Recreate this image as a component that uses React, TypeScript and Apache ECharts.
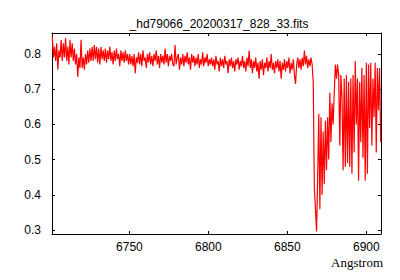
import React, { useEffect, useRef } from "react";
import * as echarts from "echarts";

const TITLE = "_hd79066_20200317_828_33.fits";
const X_LABEL = "Angstrom";
const LAMBDA_START = 6701.2;
const LAMBDA_STEP = 0.7;
const X_MIN = 6701;
const X_MAX = 6909.3;
const Y_MIN = 0.2887;
const Y_MAX = 0.8595;
const xTicks = [6750, 6800, 6850, 6900];
const yTicks = [0.3, 0.4, 0.5, 0.6, 0.7, 0.8];

const flux1 = [
  0.85, 0.79, 0.82, 0.78, 0.83, 0.755, 0.81, 0.79, 0.84, 0.78,
  0.83, 0.79, 0.845, 0.78, 0.82, 0.77, 0.84, 0.79, 0.83, 0.78,
  0.815, 0.77, 0.80, 0.735, 0.79, 0.76, 0.84, 0.76, 0.79, 0.755,
  0.80, 0.77, 0.81, 0.775, 0.815, 0.78, 0.82, 0.78, 0.825, 0.785,
  0.82, 0.775, 0.815, 0.77, 0.82, 0.785, 0.81, 0.78, 0.815, 0.775,
  0.81, 0.785, 0.82, 0.78, 0.805, 0.77, 0.81, 0.78, 0.815, 0.785,
  0.80, 0.765, 0.81, 0.78, 0.805, 0.775, 0.81, 0.78, 0.80, 0.77,
];
const flux2 = [
  0.80, 0.77, 0.795, 0.765, 0.80, 0.745, 0.79, 0.775, 0.805, 0.77,
  0.80, 0.765, 0.81, 0.78, 0.79, 0.76, 0.80, 0.775, 0.805, 0.77,
  0.795, 0.765, 0.80, 0.78, 0.81, 0.77, 0.795, 0.76, 0.80, 0.775,
  0.795, 0.77, 0.815, 0.775, 0.80, 0.765, 0.795, 0.78, 0.80, 0.77,
  0.765, 0.825, 0.77, 0.79, 0.80, 0.755, 0.79, 0.77, 0.80, 0.765,
  0.795, 0.775, 0.805, 0.77, 0.79, 0.755, 0.80, 0.775, 0.795, 0.765,
  0.79, 0.77, 0.80, 0.76, 0.785, 0.77, 0.805, 0.765, 0.79, 0.775,
  0.80, 0.765, 0.785, 0.77,
];
const flux3 = [
  0.79, 0.765, 0.785, 0.755, 0.795, 0.77, 0.78, 0.75, 0.79, 0.765,
  0.785, 0.76, 0.795, 0.77, 0.78, 0.745, 0.785, 0.765, 0.79, 0.76,
  0.78, 0.75, 0.785, 0.77, 0.79, 0.755, 0.78, 0.765, 0.795, 0.76,
  0.78, 0.75, 0.79, 0.765, 0.81, 0.76, 0.785, 0.745, 0.78, 0.76,
  0.79, 0.75, 0.775, 0.73, 0.78, 0.755, 0.785, 0.74, 0.775, 0.76,
  0.79, 0.75, 0.78, 0.76, 0.80, 0.755, 0.775, 0.745, 0.78, 0.76,
  0.785, 0.75, 0.78, 0.73, 0.775, 0.755, 0.785, 0.75, 0.78, 0.76,
  0.79, 0.745, 0.775, 0.755, 0.785, 0.74, 0.715, 0.77, 0.79, 0.76,
  0.785, 0.755, 0.79, 0.765, 0.81, 0.77, 0.795, 0.76, 0.785, 0.765,
  0.79, 0.77,
];
const flux4 = [
  0.72, 0.42, 0.36, 0.296, 0.45, 0.63, 0.36, 0.62, 0.40, 0.58,
  0.43, 0.61, 0.47, 0.62, 0.50, 0.69, 0.55, 0.66, 0.60, 0.69,
  0.77, 0.73, 0.77, 0.74, 0.54, 0.74, 0.68, 0.47, 0.73, 0.48,
  0.74, 0.49, 0.72, 0.48, 0.73, 0.46, 0.74, 0.52, 0.78, 0.60,
  0.73, 0.44, 0.72, 0.55, 0.76, 0.505, 0.74, 0.44, 0.775, 0.46,
  0.77, 0.59, 0.775, 0.54, 0.73, 0.62, 0.775, 0.52, 0.76, 0.64,
  0.76, 0.55,
];

const flux = [...flux1, ...flux2, ...flux3, ...flux4];

export default function App() {
  const ref = useRef<HTMLDivElement>(null);
  useEffect(() => {
    if (!ref.current) return;
    document.body.style.margin = "0";
    const chart = echarts.init(ref.current, null, { renderer: "svg" });
    const data = flux.map((v, i) => [LAMBDA_START + LAMBDA_STEP * i, v]);
    const font = "Liberation Sans";
    const lineStyle = { color: "#000", width: 1 };
    const baseX = {
      type: "value",
      min: X_MIN,
      max: X_MAX,
      splitLine: { show: false },
      axisLine: { show: true, onZero: false, lineStyle },
      axisTick: { show: true, inside: true, length: 3, lineStyle, customValues: xTicks },
    };
    const baseY = {
      type: "value",
      min: Y_MIN,
      max: Y_MAX,
      splitLine: { show: false },
      axisLine: { show: true, onZero: false, lineStyle },
      axisTick: { show: true, inside: true, length: 3, lineStyle, customValues: yTicks },
    };
    chart.setOption({
      animation: false,
      title: {
        text: TITLE,
        left: 214,
        top: 13,
        textAlign: "center",
        textStyle: { fontFamily: font, fontSize: 12, fontWeight: "normal", color: "#000" },
      },
      grid: { left: 52, right: 19, top: 33, bottom: 46, containLabel: false },
      xAxis: [
        {
          ...baseX,
          position: "bottom",
          axisLabel: {
            customValues: xTicks,
            margin: 7,
            fontFamily: font,
            fontSize: 12,
            color: "#000",
            formatter: (v: number) => String(Math.round(v)),
          },
        },
        { ...baseX, position: "top", axisLabel: { show: false } },
      ],
      yAxis: [
        {
          ...baseY,
          position: "left",
          axisLabel: {
            customValues: yTicks,
            margin: 11,
            fontFamily: font,
            fontSize: 12,
            color: "#000",
            formatter: (v: number) => v.toFixed(1),
          },
        },
        { ...baseY, position: "right", axisLabel: { show: false } },
      ],
      graphic: [
        {
          type: "text",
          right: 17,
          top: 256,
          style: {
            text: X_LABEL,
            font: '13px "Liberation Serif"',
            fill: "#000",
          },
        },
      ],
      series: [
        {
          type: "line",
          data,
          xAxisIndex: 0,
          yAxisIndex: 0,
          showSymbol: false,
          symbol: "none",
          lineStyle: { color: "#ff0000", width: 1.2 },
          clip: true,
        },
      ],
    });
    return () => chart.dispose();
  }, []);
  return <div ref={ref} style={{ width: 400, height: 280 }} />;
}
